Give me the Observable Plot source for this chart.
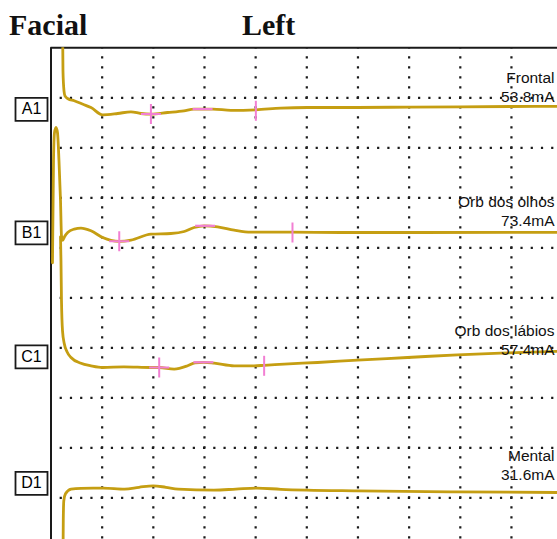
<!DOCTYPE html>
<html>
<head>
<meta charset="utf-8">
<script src="https://cdn.jsdelivr.net/npm/d3@7"></script>
<script src="https://cdn.jsdelivr.net/npm/@observablehq/plot@0.6"></script>
<style>
  html, body { margin: 0; padding: 0; background: #fff; }
  #title { position: relative; height: 40px; width: 557px; font-family: "Liberation Serif", "Times New Roman", serif; font-weight: bold; font-size: 30px; line-height: 30px; color: #111; }
  #title span { position: absolute; top: 10px; }
  #chart svg { display: block; }
</style>
</head>
<body>
<div id="title"><span style="left:9px">Facial</span><span style="left:242px">Left</span></div>
<div id="chart"></div>
<script>
// ---- data (time in divisions, vertical position in divisions from top of screen) ----
const channels = ["A1", "B1", "C1", "D1"];
const muscles = ["Frontal", "Orb dos olhos", "Orb dos lábios", "Mental"];
const amplitudes = [53.8, 73.4, 57.4, 31.6];
const colTicks = [1, 2, 3, 4, 5, 6, 7, 8, 9];
const rowTicks = [1, 2, 3, 4, 5, 6, 7, 8, 9];

const timeA1 = [0.229, 0.234, 0.254, 0.273, 0.332, 0.455, 0.625, 0.781, 1.01, 1.303, 1.563, 1.758, 1.953, 2.279, 2.598, 2.793, 3.164, 3.516, 4.004, 4.492, 5.014, 5.99, 7.03, 8.008, 8.98, 9.9];
const valueA1 = [-0.14, 0.46, 0.86, 0.96, 1.02, 1.06, 1.13, 1.194, 1.34, 1.314, 1.28, 1.314, 1.326, 1.294, 1.26, 1.226, 1.226, 1.25, 1.24, 1.206, 1.194, 1.194, 1.186, 1.18, 1.174, 1.17];

const timeB1 = [0.029, 0.049, 0.068, 0.098, 0.127, 0.156, 0.186, 0.205, 0.229, 0.264, 0.326, 0.455, 0.586, 0.781, 1.01, 1.172, 1.334, 1.563, 1.953, 2.344, 2.604, 2.799, 2.994, 3.256, 3.58, 3.906, 4.688, 5.664, 7.227, 9.9];
const valueB1 = [4.3, 2.26, 1.7, 1.594, 1.7, 2.26, 3.06, 3.76, 3.85, 3.78, 3.694, 3.626, 3.606, 3.66, 3.794, 3.85, 3.87, 3.846, 3.726, 3.714, 3.674, 3.594, 3.56, 3.58, 3.646, 3.686, 3.686, 3.694, 3.694, 3.69];

const timeC1 = [0.186, 0.195, 0.205, 0.225, 0.26, 0.313, 0.391, 0.586, 0.781, 1.01, 1.426, 1.953, 2.115, 2.408, 2.67, 2.813, 2.988, 3.189, 3.58, 3.971, 4.166, 4.557, 5.209, 5.99, 6.967, 7.943, 8.789, 9.9];
const valueC1 = [3.78, 4.26, 5.06, 5.66, 5.92, 6.08, 6.194, 6.31, 6.36, 6.394, 6.38, 6.394, 6.394, 6.426, 6.36, 6.3, 6.29, 6.306, 6.36, 6.36, 6.35, 6.326, 6.294, 6.246, 6.194, 6.14, 6.106, 6.07];

const timeD1 = [0.234, 0.24, 0.25, 0.283, 0.391, 0.586, 1.02, 1.44, 1.72, 1.998, 2.246, 2.486, 3.184, 3.613, 4.023, 4.492, 5.0, 5.977, 7.813, 9.9];
const valueD1 = [10.26, 9.46, 9.06, 8.92, 8.826, 8.81, 8.806, 8.826, 8.79, 8.76, 8.79, 8.826, 8.846, 8.826, 8.806, 8.83, 8.846, 8.86, 8.88, 8.894];

// cursor markers (onset cross, peak bar, end tick) for A1..C1
const onsetTime = [1.953, 1.334, 2.115];
const onsetValue = [1.326, 3.87, 6.394];
const peakTime = [2.963, 3.012, 2.979];
const peakValue = [1.226, 3.56, 6.29];
const endTime = [4.004, 4.72, 4.166];
const endValue = [1.26, 3.694, 6.36];

// label rows (divisions from top)
const boxRow = [1.23, 3.7, 6.18, 8.71];
const textRow = [0.78, 3.26, 5.83, 8.33];

// ---- build ----
const traceColor = "#c59e12";
const pink = "#f27fd3";
const ink = "#1a1a1a";

const toPts = (ts, vs) => ts.map((t, i) => ({t, v: vs[i]}));
const traces = [toPts(timeA1, valueA1), toPts(timeB1, valueB1), toPts(timeC1, valueC1), toPts(timeD1, valueD1)];

const crossSym = {draw(ctx, size) { const r = Math.sqrt(size / Math.PI); ctx.moveTo(-r, 0); ctx.lineTo(r, 0); ctx.moveTo(0, -r); ctx.lineTo(0, r); }};
const hBarSym = {draw(ctx, size) { const r = Math.sqrt(size / Math.PI); ctx.moveTo(-r, 0); ctx.lineTo(r, 0); }};
const vBarSym = {draw(ctx, size) { const r = Math.sqrt(size / Math.PI); ctx.moveTo(0, -r); ctx.lineTo(0, r); }};
const boxSym = {draw(ctx) { ctx.rect(-16, -11.5, 32, 23); }};

const onsets = onsetTime.map((t, i) => ({t, v: onsetValue[i]}));
const peaks = peakTime.map((t, i) => ({t, v: peakValue[i]}));
const ends = endTime.map((t, i) => ({t, v: endValue[i]}));
const labels = channels.map((c, i) => ({c, row: boxRow[i], trow: textRow[i], text: `${muscles[i]}\n${amplitudes[i]}mA`}));

const chart = Plot.plot({
  width: 557,
  height: 499,
  marginLeft: 50.5,
  marginRight: 0,
  marginTop: 7.3,
  marginBottom: 0,
  x: {domain: [0, 9.9], axis: null},
  y: {domain: [0, 9.834], reverse: true, axis: null},
  style: {fontFamily: "'Liberation Sans', Arial, sans-serif", background: "#fff"},
  marks: [
    Plot.ruleY(rowTicks, {stroke: ink, strokeWidth: 2.2, strokeDasharray: "2.2,8.04", strokeDashoffset: 1.1}),
    Plot.ruleX(colTicks, {stroke: ink, strokeWidth: 2.2, strokeDasharray: "2.2,7.8", strokeDashoffset: 1.1}),
    Plot.ruleY([0], {stroke: ink, strokeWidth: 2}),
    Plot.ruleX([0], {stroke: ink, strokeWidth: 2}),
    ...traces.map(pts => Plot.line(pts, {x: "t", y: "v", stroke: traceColor, strokeWidth: 2.8, curve: "monotone-x", clip: true})),
    Plot.dot(onsets, {x: "t", y: "v", symbol: crossSym, r: 10, stroke: pink, strokeWidth: 2, fill: "none"}),
    Plot.dot(peaks, {x: "t", y: "v", symbol: hBarSym, r: 10, stroke: pink, strokeWidth: 2.2, fill: "none"}),
    Plot.dot(ends, {x: "t", y: "v", symbol: vBarSym, r: 10, stroke: pink, strokeWidth: 2, fill: "none"}),
    Plot.dot(labels, {frameAnchor: "left", y: "row", dx: -19.5, symbol: boxSym, r: 1, stroke: ink, strokeWidth: 1.8, fill: "#fff"}),
    Plot.text(labels, {frameAnchor: "left", y: "row", dx: -19.5, text: "c", fontSize: 16, fill: "#000", textAnchor: "middle"}),
    Plot.text(labels, {frameAnchor: "right", y: "trow", dx: -3, text: "text", fontSize: 15.5, lineHeight: 1.2, fill: "#111", textAnchor: "end"})
  ]
});
document.getElementById("chart").appendChild(chart);
</script>
</body>
</html>
